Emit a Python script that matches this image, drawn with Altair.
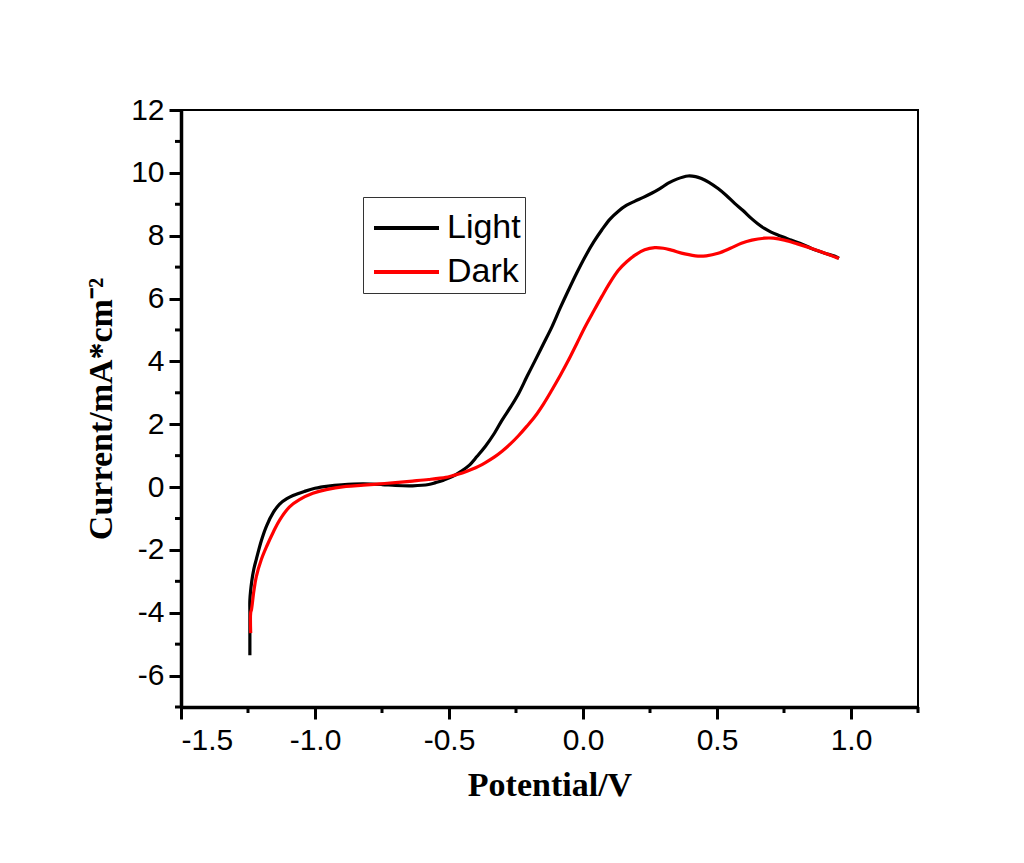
import altair as alt
import pandas as pd

# ---- data ----
light_x = [-1.243, -1.243, -1.243, -1.236, -1.228, -1.219, -1.20, -1.181, -1.155, -1.132,
           -1.105, -1.082, -1.04, -1.0, -0.95, -0.90, -0.822, -0.75, -0.70, -0.636,
           -0.576, -0.55, -0.52, -0.488, -0.455, -0.426, -0.395, -0.364, -0.33, -0.302,
           -0.27, -0.24, -0.21, -0.178, -0.147, -0.116, -0.085, -0.054, -0.023, 0.008,
           0.04, 0.07, 0.10, 0.132, 0.163, 0.194, 0.225, 0.256, 0.287, 0.318,
           0.35, 0.392, 0.42, 0.442, 0.47, 0.504, 0.535, 0.566, 0.597, 0.628,
           0.652, 0.677, 0.70, 0.727, 0.776, 0.82, 0.851, 0.90, 0.944, 0.955]
light_y = [-5.35, -4.0, -3.6, -3.0, -2.6, -2.3, -1.7, -1.24, -0.8, -0.54,
           -0.37, -0.27, -0.14, -0.04, 0.03, 0.07, 0.10, 0.08, 0.05, 0.04,
           0.08, 0.14, 0.22, 0.33, 0.5, 0.68, 0.98, 1.3, 1.72, 2.13,
           2.55, 2.98, 3.5, 4.04, 4.57, 5.1, 5.7, 6.27, 6.82, 7.33,
           7.8, 8.18, 8.52, 8.78, 8.97, 9.1, 9.22, 9.35, 9.5, 9.67,
           9.8, 9.9, 9.88, 9.82, 9.7, 9.5, 9.28, 9.03, 8.8, 8.55,
           8.38, 8.23, 8.12, 8.02, 7.86, 7.72, 7.6, 7.45, 7.33, 7.28]

dark_x = [-1.240, -1.240, -1.237, -1.228, -1.219, -1.20, -1.181, -1.155, -1.132, -1.095,
          -1.058, -1.008, -0.958, -0.884, -0.82, -0.76, -0.70, -0.636, -0.576, -0.512,
          -0.488, -0.45, -0.41, -0.39, -0.364, -0.33, -0.302, -0.27, -0.24, -0.21,
          -0.178, -0.147, -0.116, -0.085, -0.054, -0.023, 0.008, 0.04, 0.07, 0.10,
          0.132, 0.163, 0.194, 0.23, 0.268, 0.30, 0.33, 0.38, 0.429, 0.46,
          0.504, 0.55, 0.591, 0.63, 0.677, 0.71, 0.752, 0.80, 0.851, 0.90,
          0.944, 0.955]
dark_y = [-4.65, -4.0, -3.9, -3.3, -2.85, -2.3, -1.9, -1.42, -1.05, -0.63,
          -0.4, -0.2, -0.08, 0.02, 0.06, 0.10, 0.14, 0.19, 0.24, 0.31,
          0.36, 0.45, 0.58, 0.66, 0.78, 0.96, 1.14, 1.38, 1.64, 1.93,
          2.26, 2.65, 3.09, 3.55, 4.04, 4.57, 5.1, 5.6, 6.06, 6.5,
          6.9, 7.17, 7.38, 7.55, 7.62, 7.6, 7.54, 7.42, 7.35, 7.36,
          7.44, 7.6, 7.76, 7.86, 7.92, 7.92, 7.86, 7.74, 7.6, 7.45,
          7.31, 7.28]

series_names = ["Light", "Dark"]
series_colors = ["#000000", "#ff0000"]

x_major = [-1.5, -1.0, -0.5, 0.0, 0.5, 1.0]
x_minor = [-1.25, -0.75, -0.25, 0.25, 0.75, 1.25]
y_major = [-6, -4, -2, 0, 2, 4, 6, 8, 10, 12]
y_minor = [-7, -5, -3, -1, 1, 3, 5, 7, 9, 11]

rows = []
for i, (x, y) in enumerate(zip(light_x, light_y)):
    rows.append({"series": "Light", "V": x, "I": y, "idx": i})
for i, (x, y) in enumerate(zip(dark_x, dark_y)):
    rows.append({"series": "Dark", "V": x, "I": y, "idx": i})
df = pd.DataFrame(rows)

W, H = 737, 597
xscale = alt.Scale(domain=[-1.5, 1.25], nice=False, zero=False)
yscale = alt.Scale(domain=[-7, 12], nice=False, zero=False)

lines = alt.Chart(df).mark_line(strokeWidth=3.2, clip=True, interpolate="catmull-rom").encode(
    x=alt.X("V:Q", scale=xscale,
            axis=alt.Axis(values=x_major, title="Potential/V",
                          labelExpr="datum.value < 0 ? '-' + format(-datum.value, '.1f') : format(datum.value, '.1f')")),
    y=alt.Y("I:Q", scale=yscale,
            axis=alt.Axis(values=y_major, title="Current/mA*cm⁻²",
                          labelExpr="datum.value < 0 ? '-' + format(-datum.value, 'd') : format(datum.value, 'd')")),
    color=alt.Color("series:N", scale=alt.Scale(domain=series_names, range=series_colors),
                    legend=alt.Legend(title=None, orient="none", legendX=182, legendY=87,
                                      symbolType="M-0.8,0H1.8", symbolSize=2500, symbolStrokeWidth=4,
                                      labelFontSize=34, labelFont="Liberation Sans", labelColor="black",
                                      strokeColor="#333333", padding=4, rowPadding=-8, labelOffset=26)),
    order="idx:Q",
)

yminor_df = pd.DataFrame({"t": y_minor})
xminor_df = pd.DataFrame({"t": x_minor})

ymin = alt.Chart(yminor_df).mark_rule(strokeWidth=3, color="black").encode(
    y=alt.Y("t:Q", scale=yscale), x=alt.value(0), x2=alt.value(-6))
xmin = alt.Chart(xminor_df).mark_rule(strokeWidth=3, color="black").encode(
    x=alt.X("t:Q", scale=xscale), y=alt.value(H), y2=alt.value(H + 6))

chart = alt.layer(lines, ymin, xmin).properties(
    width=W, height=H,
    autosize=alt.AutoSizeParams(type="none"),
    padding={"left": 173, "top": 102, "right": 90, "bottom": 140},
    background="white",
).configure_view(stroke="black", strokeWidth=2).configure_axis(
    grid=False, domainColor="black", domainWidth=3.5, tickColor="black", tickSize=12,
    tickWidth=3, labelFont="Liberation Sans", labelFontSize=30, labelColor="black",
    titleFont="Liberation Serif", titleFontWeight="bold", titleFontSize=34, titleColor="black",
).configure_axisX(labelPadding=6, titlePadding=13).configure_axisY(labelPadding=5, titlePadding=12)

chart.save("out.html", embed_options={"renderer": "svg", "actions": False})
